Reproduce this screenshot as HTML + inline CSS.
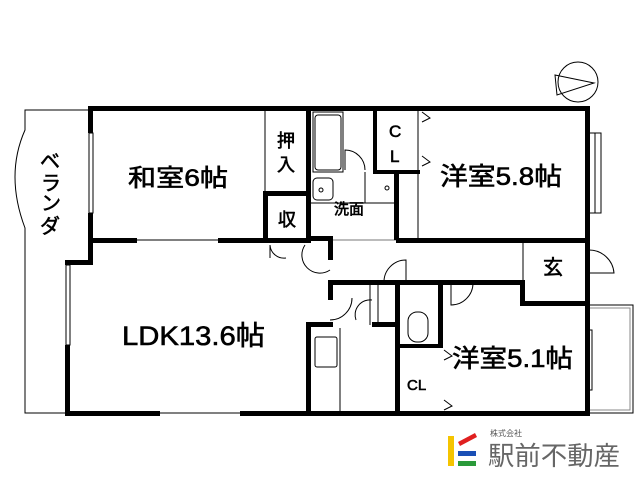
<!DOCTYPE html>
<html><head><meta charset="utf-8"><style>
html,body{margin:0;padding:0;background:#fff;width:640px;height:480px;overflow:hidden}
svg{display:block}
text{font-family:"Liberation Sans","Noto Sans CJK JP",sans-serif;fill:#000}
.b{stroke:#000;stroke-width:0.6}
</style></head><body>
<svg width="640" height="480" viewBox="0 0 640 480" xmlns="http://www.w3.org/2000/svg">
<g fill="none" stroke="#000" stroke-width="1">
 <path d="M91 110 H25 V130 Q5 175 25 228 V413 H68"/>
 <rect x="589" y="305" width="44" height="108"/>
 <rect x="589" y="308" width="41" height="102" stroke="#888"/>
 <circle cx="578" cy="82" r="20"/>
 <path d="M555 75 L594 83 L557 95 Z"/>
 <line x1="265" y1="110" x2="265" y2="193"/>
 <line x1="137" y1="240" x2="222" y2="240"/>
 <line x1="160" y1="413" x2="240" y2="413"/>
 <line x1="523" y1="240" x2="523" y2="283"/>
 <line x1="333" y1="240" x2="396" y2="240" stroke="#777"/>
 <line x1="418" y1="110" x2="418" y2="238"/>
 <rect x="89" y="133" width="4" height="80"/>
 <rect x="66" y="265" width="4" height="80"/>
 <rect x="589" y="133" width="6" height="80"/><rect x="595" y="133" width="6" height="80"/>
 <rect x="587" y="330" width="5" height="60"/>
 <rect x="315" y="115" width="26" height="55" rx="3"/>
 <rect x="313" y="112" width="30" height="60"/>
 <path d="M345 170 V150 A20 20 0 0 1 365 170"/>
 <rect x="313" y="178" width="20" height="22" rx="4"/>
 <circle cx="321" cy="190" r="2"/><circle cx="387" cy="188" r="2"/>
 <line x1="310" y1="203" x2="395" y2="203"/>
 <line x1="365" y1="172" x2="365" y2="203"/>
 <rect x="315" y="337" width="22" height="30" rx="2"/>
 <line x1="340" y1="328" x2="340" y2="413"/>
 <rect x="408" y="312" width="20" height="30" rx="9"/>
 <path d="M270 258 V245 A14 14 0 0 0 286 258"/>
 <path d="M305 245 A18 18 0 0 0 330 270"/>
 <path d="M406 283 V260 A22 22 0 0 0 384 283"/>
 <path d="M451 283 V305 A22 22 0 0 0 473 283"/>
 <path d="M589 250 A25 25 0 0 1 614 273 H589"/>
 <path d="M330 320 A22 22 0 0 0 352 298"/>
 <path d="M372 300 A15 15 0 0 0 356 320"/>
 <path d="M422 112 L430 118 L422 122"/><path d="M422 156 L430 162 L422 166"/>
 <path d="M444 350 L452 356 L444 360"/><path d="M444 400 L452 406 L444 410"/>
 <line x1="370" y1="283" x2="370" y2="325"/><line x1="378" y1="283" x2="378" y2="325"/>
</g>
<g fill="#000">
 <rect x="88" y="106" width="502" height="5"/>
 <rect x="88" y="106" width="5" height="27"/>
 <rect x="88" y="213" width="5" height="52"/>
 <rect x="65" y="260" width="28" height="5"/>
 <rect x="65" y="345" width="5" height="71"/>
 <rect x="65" y="411" width="95" height="5"/>
 <rect x="240" y="411" width="350" height="5"/>
 <rect x="585" y="106" width="5" height="310"/>
 <rect x="91" y="238" width="46" height="5"/>
 <rect x="218" y="238" width="92" height="5"/>
 <rect x="263" y="191" width="47" height="5"/>
 <rect x="263" y="191" width="5" height="52"/>
 <rect x="306" y="106" width="5" height="137"/>
 <rect x="373" y="106" width="4" height="67"/>
 <rect x="373" y="170" width="47" height="4"/>
 <rect x="394" y="173" width="5" height="67"/>
 <rect x="306" y="236" width="27" height="5"/>
 <rect x="396" y="238" width="194" height="5"/>
 <rect x="328" y="238" width="5" height="22"/>
 <rect x="328" y="280" width="5" height="20"/>
 <rect x="328" y="280" width="195" height="5"/>
 <rect x="520" y="280" width="5" height="25"/>
 <rect x="520" y="301" width="70" height="5"/>
 <rect x="306" y="322" width="27" height="5"/>
 <rect x="306" y="322" width="5" height="94"/>
 <rect x="372" y="322" width="27" height="5"/>
 <rect x="395" y="283" width="5" height="133"/>
 <rect x="438" y="283" width="5" height="65"/>
 <rect x="395" y="344" width="48" height="4"/>
</g>
<text class="b" x="128" y="186" font-size="24" textLength="100" lengthAdjust="spacingAndGlyphs">和室6帖</text>
<text class="b" x="277" y="147" font-size="18">押</text>
<text class="b" x="277" y="171" font-size="18">入</text>
<text class="b" x="278" y="226" font-size="18">収</text>
<g font-size="20" class="b">
<text x="40" y="168">ベ</text>
<text x="41" y="190">ラ</text>
<text x="41" y="210">ン</text>
<text x="40" y="233">ダ</text>
</g>
<text class="b" x="122" y="345" font-size="27" textLength="143" lengthAdjust="spacingAndGlyphs">LDK13.6帖</text>
<text class="b" x="334" y="214" font-size="15">洗面</text>
<text class="b" x="389" y="137" font-size="17">C</text>
<text class="b" x="390" y="162" font-size="17">L</text>
<text class="b" x="440" y="185" font-size="25" textLength="122" lengthAdjust="spacingAndGlyphs">洋室5.8帖</text>
<text class="b" x="543" y="274" font-size="20">玄</text>
<text class="b" x="452" y="367" font-size="25" textLength="121" lengthAdjust="spacingAndGlyphs">洋室5.1帖</text>
<text class="b" x="407" y="390" font-size="15">CL</text>
<rect x="448" y="436" width="6" height="30" fill="#f5c400"/>
<path d="M458 442 L475 433 L477 437 L460 446 Z" fill="#e02020"/>
<rect x="458" y="451" width="18" height="5" fill="#1a4fb5"/>
<rect x="458" y="461" width="18" height="5" fill="#2a9a3a"/>
<text x="490" y="436" font-size="8" style="fill:#555">株式会社</text>
<text x="488" y="465" font-size="26" style="fill:#666" textLength="132" lengthAdjust="spacingAndGlyphs">駅前不動産</text>
</svg>
</body></html>
